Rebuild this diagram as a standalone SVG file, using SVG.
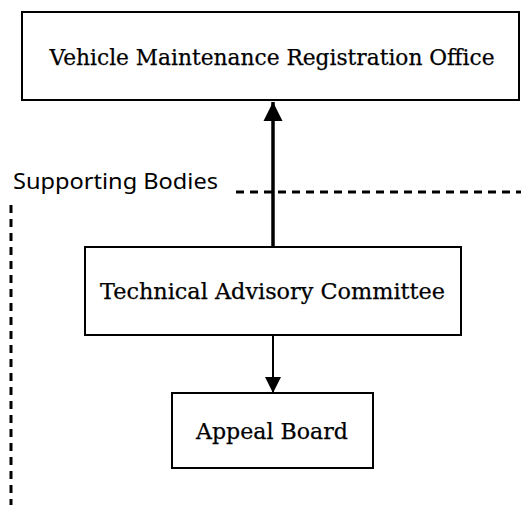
<svg xmlns="http://www.w3.org/2000/svg" width="521" height="508" viewBox="0 0 521 508">
<style>
.box{fill:#fff;stroke:#000;stroke-width:2}
.lbl{font-family:"DejaVu Serif","Liberation Serif",serif;font-size:23px;fill:#000;stroke:#000;stroke-width:0.25;text-anchor:middle}
.dash{stroke:#000;stroke-width:3;stroke-dasharray:8,6;fill:none}
</style>
<defs>
<marker id="ah" viewBox="0 0 10 10" refX="10" refY="5" markerUnits="userSpaceOnUse" markerWidth="19" markerHeight="20" orient="auto">
<path d="M0,0 L10,5 L0,10 z" fill="#000"/>
</marker>
<marker id="ah2" viewBox="0 0 10 10" refX="10" refY="5" markerUnits="userSpaceOnUse" markerWidth="16" markerHeight="18" orient="auto">
<path d="M0,0 L10,5 L0,10 z" fill="#000"/>
</marker>
</defs>
<g id="supporting-bodies">
<text x="13" y="189" style="font-family:'Noto Sans','Open Sans',sans-serif;font-size:21px" textLength="205" lengthAdjust="spacingAndGlyphs">Supporting Bodies</text>
<line class="dash" x1="236" y1="192" x2="521" y2="192"/>
<line class="dash" x1="11" y1="205" x2="11" y2="505"/>
</g>
<g id="vmro">
<rect class="box" x="22" y="12" width="497" height="88"/>
<text class="lbl" x="272" y="65" textLength="445" lengthAdjust="spacingAndGlyphs">Vehicle Maintenance Registration Office</text>
</g>
<g id="tac">
<rect class="box" x="85" y="247" width="376" height="88"/>
<text class="lbl" x="272.5" y="299" textLength="345" lengthAdjust="spacingAndGlyphs">Technical Advisory Committee</text>
</g>
<g id="appeal">
<rect class="box" x="172" y="393" width="201" height="75"/>
<text class="lbl" x="272" y="439" textLength="152" lengthAdjust="spacingAndGlyphs">Appeal Board</text>
</g>
<g id="connectors">
<line x1="273" y1="247" x2="273" y2="102" stroke="#000" stroke-width="3.5" marker-end="url(#ah)"/>
<line x1="273" y1="335" x2="273" y2="393" stroke="#000" stroke-width="2" marker-end="url(#ah2)"/>
</g>
</svg>
